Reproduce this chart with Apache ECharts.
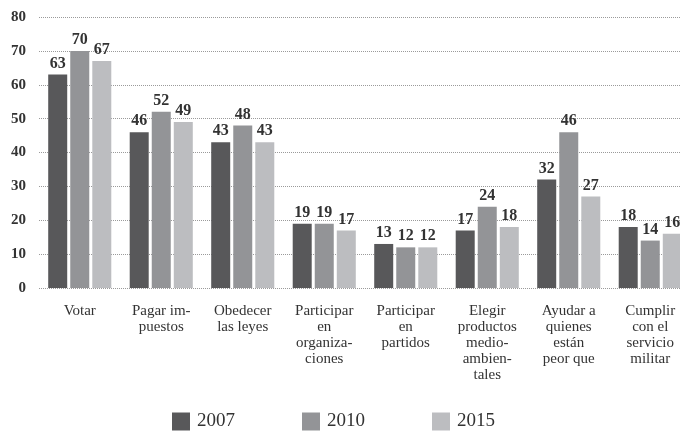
<!DOCTYPE html>
<html><head><meta charset="utf-8">
<script src="https://cdn.jsdelivr.net/npm/echarts@6/dist/echarts.min.js"></script>
<style>html,body{margin:0;padding:0;background:#fff}#c{width:680px;height:436px}</style>
</head><body><div id="c"></div>
<script>
var categories = ["Votar","Pagar im-\npuestos","Obedecer\nlas leyes","Participar\nen\norganiza-\nciones","Participar\nen\npartidos","Elegir\nproductos\nmedio-\nambien-\ntales","Ayudar a\nquienes\nestán\npeor que","Cumplir\ncon el\nservicio\nmilitar"];
var years = ["2007","2010","2015"];
var v2007 = [63,46,43,19,13,17,32,18];
var v2010 = [70,52,48,19,12,24,46,14];
var v2015 = [67,49,43,17,12,18,27,16];
var colors = ["#58585a","#939497","#bcbdc0"];
var font = "'Liberation Serif', 'DejaVu Serif', serif";
var chart = echarts.init(document.getElementById('c'), null, {renderer:'canvas'});
function s(name, data, i){
  return {name:name, type:'bar', data:data, barWidth:19, barGap:'16%',
    itemStyle:{color:colors[i]},
    label:{show:true, position:'top', distance:3, color:'#333', fontFamily:font, fontWeight:'bold', fontSize:16}};
}
chart.setOption({
  animation:false,
  textStyle:{fontFamily:font},
  grid:{left:39, width:652, top:17, bottom:148, containLabel:false, outerBoundsMode:'none'},
  legend:{bottom:0, left:167, itemWidth:18, itemHeight:18, itemGap:67,
    icon:'rect', textStyle:{fontFamily:font, fontSize:19, color:'#333', padding:[0,0,0,2]},
    data:years},
  xAxis:{type:'category', data:categories,
    axisLine:{show:false}, axisTick:{show:false},
    axisLabel:{interval:0, margin:15, fontFamily:font, fontSize:15, color:'#333', lineHeight:16, align:'center', verticalAlign:'top'}},
  yAxis:{type:'value', min:0, max:80, interval:10,
    axisLine:{show:false}, axisTick:{show:false},
    splitLine:{show:true, lineStyle:{type:'dotted', color:'#9a9a9a', width:1}},
    axisLabel:{margin:13, fontFamily:font, fontSize:15, fontWeight:'bold', color:'#333'}},
  series:[s(years[0],v2007,0), s(years[1],v2010,1), s(years[2],v2015,2)]
});
</script></body></html>
